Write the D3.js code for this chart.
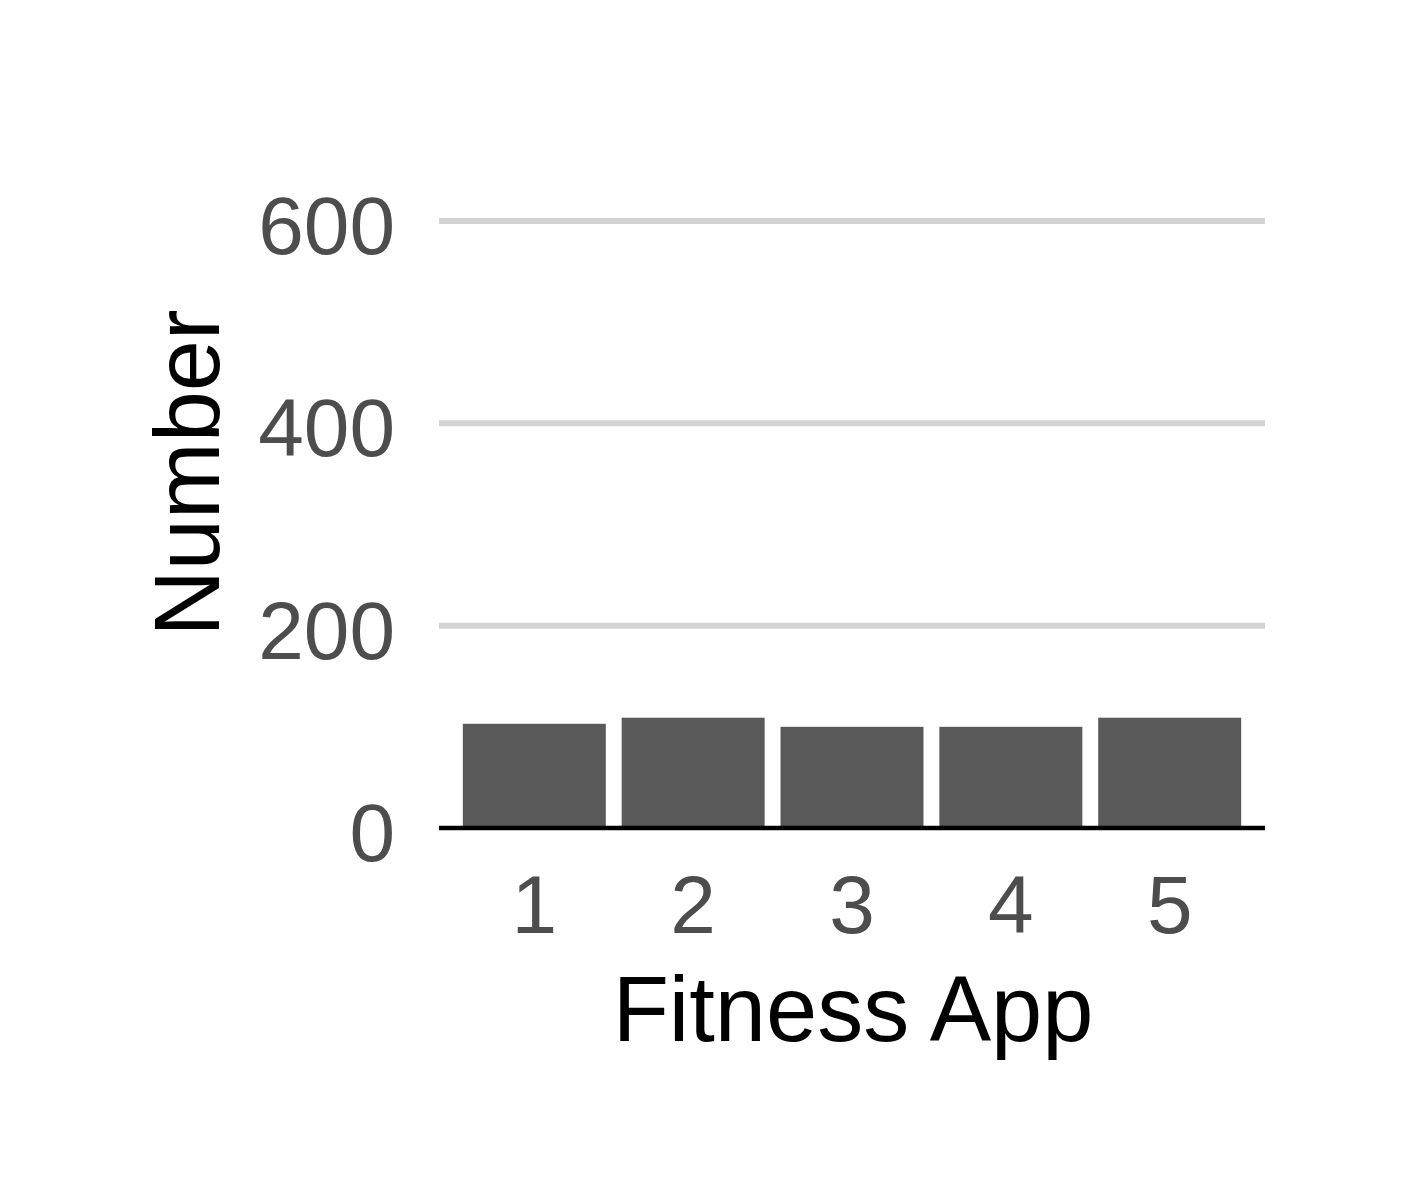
<!DOCTYPE html>
<html>
<head>
<meta charset="utf-8">
<script src="https://cdn.jsdelivr.net/npm/d3@7"></script>
<style>
  html, body { margin: 0; padding: 0; background: #fff; }
  svg { display: block; }
  text { font-family: "Liberation Sans", Arial, sans-serif; }
</style>
</head>
<body>
<svg id="chart" width="1417" height="1181"></svg>
<script>
const categories = ["1", "2", "3", "4", "5"];
const values = [103, 109, 100, 100, 109];
const yTicks = [0, 200, 400, 600];
const xTitle = "Fitness App";
const yTitle = "Number";

const svg = d3.select("#chart");
const left = 439, right = 1265, bottom = 828, top600 = 221;

const x = d3.scaleBand().domain(categories).range([left, right])
  .paddingInner(0.1).paddingOuter(0.15);
const y = d3.scaleLinear().domain([0, 600]).range([bottom, top600]);

// gridlines
svg.append("g").selectAll("line").data(yTicks.filter(d => d > 0)).join("line")
  .attr("x1", left).attr("x2", right)
  .attr("y1", d => y(d)).attr("y2", d => y(d))
  .attr("stroke", "#d3d3d3").attr("stroke-width", 6);

// bars
svg.append("g").selectAll("rect").data(values).join("rect")
  .attr("x", (d, i) => x(categories[i]))
  .attr("width", x.bandwidth())
  .attr("y", d => y(d))
  .attr("height", d => y(0) - y(d))
  .attr("fill", "#595959");

// x axis line
svg.append("line").attr("x1", left).attr("x2", right)
  .attr("y1", y(0)).attr("y2", y(0))
  .attr("stroke", "#000").attr("stroke-width", 4.5);

// y tick labels
svg.append("g").selectAll("text").data(yTicks).join("text")
  .attr("x", 395).attr("y", d => y(d) + 33)
  .attr("text-anchor", "end")
  .attr("font-size", 82).attr("fill", "#4d4d4d")
  .text(d => d);

// x tick labels
svg.append("g").selectAll("text").data(categories).join("text")
  .attr("x", d => x(d) + x.bandwidth() / 2).attr("y", 933)
  .attr("text-anchor", "middle")
  .attr("font-size", 82).attr("fill", "#4d4d4d")
  .text(d => d);

// x title
svg.append("text").attr("x", 853).attr("y", 1041)
  .attr("text-anchor", "middle").attr("font-size", 92).attr("fill", "#000")
  .text(xTitle);

// y title
svg.append("text").attr("transform", "translate(219,473) rotate(-90)")
  .attr("text-anchor", "middle").attr("font-size", 92).attr("fill", "#000")
  .text(yTitle);
</script>
</body>
</html>
